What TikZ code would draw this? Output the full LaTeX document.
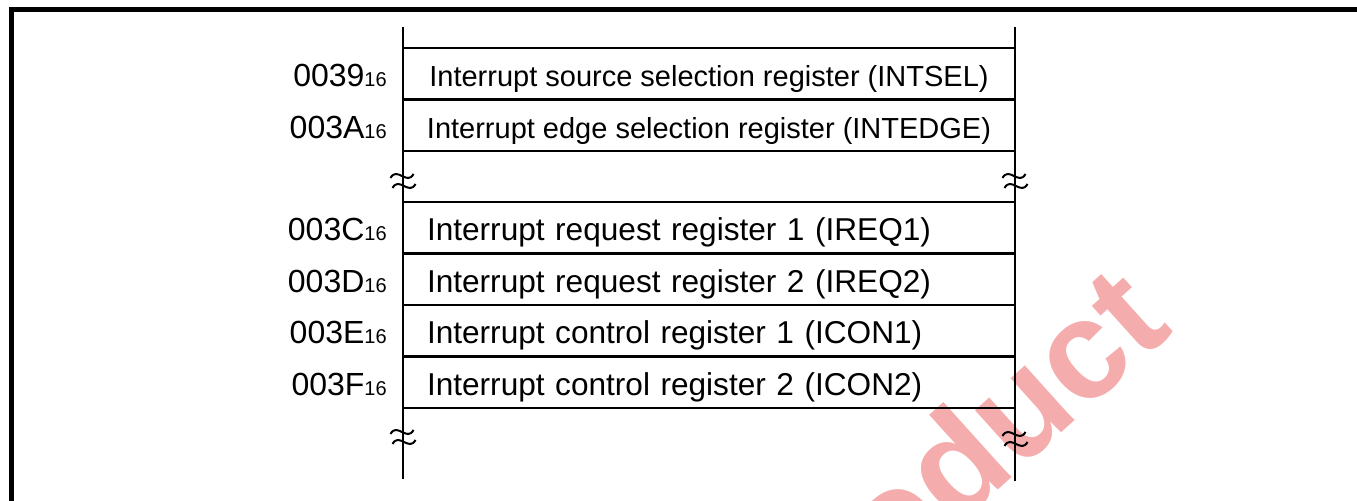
\documentclass[tikz,border=0pt]{standalone}
\usepackage{fontspec}
\setmainfont{Liberation Sans}
\usepackage{tikz}
\usetikzlibrary{positioning}
\definecolor{wmred}{HTML}{F5ACAC}

\tikzset{
  regcell/.style={draw,outer sep=0pt,inner ysep=0pt,minimum height=25.75pt,text height=13pt,text depth=0pt},
  regbox/.style={regcell,inner xsep=12pt,text width=282pt,align=left,font=\fontsize{15.8}{18}\selectfont},
  regnarrow/.style={regcell,inner xsep=0pt,minimum width=306pt,font=\fontsize{14.5}{17}\selectfont},
  addr/.style={inner sep=0pt,font=\fontsize{16}{18}\selectfont},
  wavy/.style={line width=1pt},
  wmark/.style={text=wmred,inner sep=0pt,font=\fontsize{70}{80}\selectfont\bfseries}
}
\newcommand{\hexsub}[1]{{\fontsize{10}{12}\selectfont #1}}

\begin{document}
\begin{tikzpicture}[x=0.5pt,y=-0.5pt,line width=1.3pt]
  \useasboundingbox (0,0) rectangle (1357,501);
  % watermark, cut by the page
  \node[wmark,rotate=42,anchor=base east] (wm) at (1176,330) {roduct};
  \draw[line width=2.5pt] (11.5,501) -- (11.5,10) -- (1357,10);
  % upper block
  \node[regnarrow,anchor=north west] (r39) at (403,48) {Interrupt source selection register (INTSEL)};
  \node[regnarrow,below=0pt of r39] (r3A) {Interrupt edge selection register (INTEDGE)};
  % lower block
  \node[regbox,anchor=north west] (r3C) at (403,202) {Interrupt request register 1 (IREQ1)};
  \node[regbox,below=0pt of r3C] (r3D) {Interrupt request register 2 (IREQ2)};
  \node[regbox,below=0pt of r3D] (r3E) {Interrupt control register 1 (ICON1)};
  \node[regbox,below=0pt of r3E] (r3F) {Interrupt control register 2 (ICON2)};
  \foreach \r/\a in {r39/0039,r3A/003A,r3C/003C,r3D/003D,r3E/003E,r3F/003F}
    \node[addr,base left=7.5pt of \r.base west] (a\r) {\a\hexsub{16}};
  % rails
  \draw (r39.north west) -- ++(0,-21);
  \draw (r39.north east) -- ++(0,-21);
  \draw (r3A.south west) -- (r3C.north west);
  \draw (r3A.south east) -- (r3C.north east);
  \draw (r3F.south west) -- ++(0,71);
  \draw (r3F.south east) -- ++(0,73);
  % breaks
  \foreach \x/\y in {403/182,1015/182,403/438,1015/440}{
    \draw[wavy] (\x-12.5,\y-4) .. controls (\x-6,\y-16) and (\x+4,\y+4) .. (\x+10.5,\y-8);
    \draw[wavy] (\x-10.5,\y+6) .. controls (\x-4,\y-6) and (\x+6,\y+14) .. (\x+12.5,\y+2);}
\end{tikzpicture}
\end{document}
